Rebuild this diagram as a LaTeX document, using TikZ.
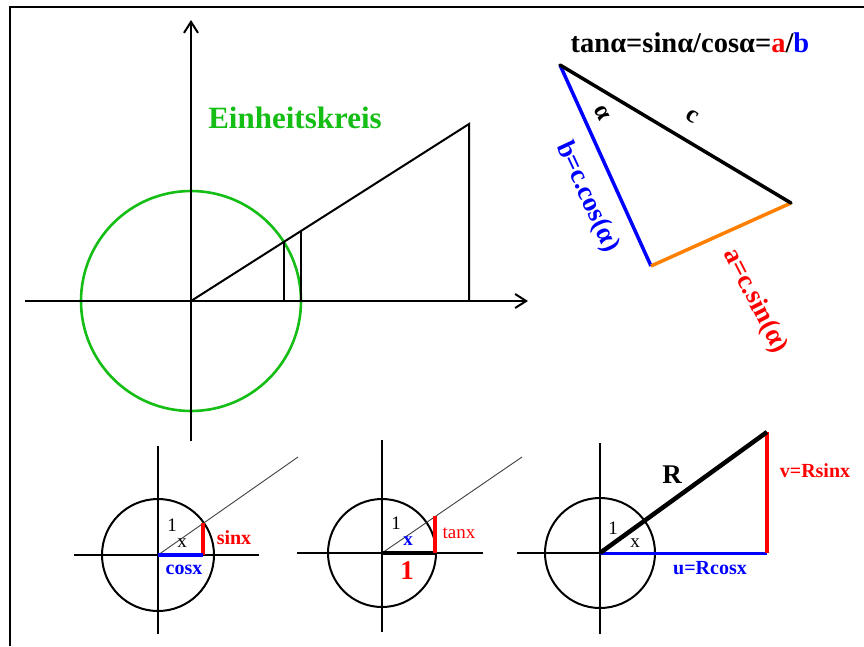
\documentclass[tikz,border=0pt]{standalone}
\usepackage{fontspec}
\setmainfont{Liberation Serif}
\usetikzlibrary{arrows.meta}
\definecolor{kgreen}{RGB}{20,190,20}
\definecolor{korange}{RGB}{255,128,0}
\definecolor{kred}{RGB}{255,0,0}
\definecolor{kblue}{RGB}{0,0,255}
\begin{document}
\begin{tikzpicture}[x=1pt,y=-1pt,
  axis/.style={line width=2pt,black},
  barb/.style={-{Straight Barb[length=11pt,width=14pt,line width=2pt]}},
  thin ray/.style={line width=0.9pt,black!75},
  lbl/.style={inner sep=0pt,font=\fontsize{20}{22}\selectfont\bfseries},
  num/.style={inner sep=0pt,font=\fontsize{19}{21}\selectfont},
  big/.style={inner sep=0pt,font=\fontsize{27}{30}\selectfont\bfseries}]
\useasboundingbox (0,0) rectangle (864,646);
% frame
\coordinate (fbl) at (10,646);
\coordinate (ftl) at (10,7);
\coordinate (ftr) at (864,7);
\draw[line width=2.5pt] (fbl) -- (ftl) -- (ftr);

% ---------- main unit circle diagram ----------
\coordinate (O) at (191,301);
\coordinate (xs) at (25,301);
\coordinate (xe) at (528,301);
\coordinate (ys) at (191,441);
\coordinate (ye) at (191,20);
\draw[kgreen,line width=2.6pt] (O) circle[radius=110];
\draw[axis,barb] (xs) -- (xe);
\draw[axis,barb] (ys) -- (ye);
\coordinate (T) at (469,124);
\coordinate (Tb) at (469,301);
\coordinate (P) at (284,242);
\coordinate (Pb) at (284,301);
\coordinate (Q) at (301,231);
\coordinate (Qb) at (301,301);
\draw[axis] (O) -- (T) -- (Tb);
\draw[axis] (P) -- (Pb);
\draw[axis] (Q) -- (Qb);
\node[big,text=kgreen,font=\fontsize{31}{33}\selectfont\bfseries] (ek) at (295,118) {Einheitskreis};

% ---------- triangle ----------
\node[big,font=\fontsize{28.5}{30}\selectfont\bfseries] (title) at (690,43) {tanα=sinα/cosα=\textcolor{kred}{a}/\textcolor{kblue}{b}};
\coordinate (A) at (560,65);
\coordinate (B) at (791,203);
\coordinate (C) at (651,266);
\draw[kblue,line width=3.5pt] (A) -- (C);
\draw[korange,line width=3.5pt] (C) -- (B);
\draw[black,line width=3.5pt,line cap=round] (A) -- (B);
\node[big,rotate=-62,font=\fontsize{25}{27}\selectfont\bfseries] (al) at (602,113) {α};
\node[big,rotate=-31,font=\fontsize{25}{27}\selectfont\bfseries] (cl) at (692,116) {c};
\node[big,rotate=-65,text=kblue,font=\fontsize{27}{29}\selectfont\bfseries] (bl) at (587,197) {b=c.cos(α)};
\node[big,rotate=-63,text=kred,font=\fontsize{27}{29}\selectfont\bfseries] (alb) at (755,301) {a=c.sin(α)};

% ---------- bottom circle 1 ----------
\coordinate (O1) at (158,555);
\coordinate (a1l) at (74,555);
\coordinate (a1r) at (259,555);
\coordinate (a1t) at (158,446);
\coordinate (a1b) at (158,634);
\coordinate (r1) at (298,457);
\coordinate (s1) at (203,523);
\coordinate (c1) at (203,555);
\draw[axis] (O1) circle[radius=56];
\draw[axis] (a1l) -- (a1r);
\draw[axis] (a1t) -- (a1b);
\draw[thin ray] (O1) -- (r1);
\draw[kred,line width=3.5pt] (s1) -- (c1);
\draw[kblue,line width=4pt] (O1) -- (c1);
\node[num] (one1) at (172,525) {1};
\node[num] (x1) at (182,543) {x};
\node[lbl,text=kred] (sinx) at (234,538) {sinx};
\node[lbl,text=kblue] (cosx) at (184,570) {cosx};

% ---------- bottom circle 2 ----------
\coordinate (O2) at (382,553);
\coordinate (a2l) at (297,553);
\coordinate (a2r) at (483,553);
\coordinate (a2t) at (382,440);
\coordinate (a2b) at (382,632);
\coordinate (r2) at (522,457);
\coordinate (t2) at (435,516);
\coordinate (c2) at (435,553);
\draw[axis] (O2) circle[radius=54];
\draw[axis] (a2l) -- (a2r);
\draw[axis] (a2t) -- (a2b);
\draw[thin ray] (O2) -- (r2);
\draw[black,line width=4pt] (O2) -- (c2);
\draw[kred,line width=3.5pt] (t2) -- (c2);
\node[num] (one2) at (396,523) {1};
\node[num,text=kblue,font=\fontsize{19}{21}\selectfont\bfseries] (x2) at (408,541) {x};
\node[lbl,text=kred,font=\fontsize{19}{21}\selectfont] (tanx) at (459,533) {tanx};
\node[big,text=kred] (one2r) at (407,571) {1};

% ---------- bottom circle 3 ----------
\coordinate (O3) at (600,553);
\coordinate (a3l) at (517,553);
\coordinate (a3t) at (600,443);
\coordinate (a3b) at (600,634);
\coordinate (R3) at (767,432);
\coordinate (U3) at (767,553);
\draw[axis] (O3) circle[radius=55];
\draw[axis] (a3l) -- (O3);
\draw[axis] (a3t) -- (a3b);
\draw[kblue,line width=3pt] (O3) -- (U3);
\draw[kred,line width=4pt] (R3) -- (U3);
\draw[black,line width=4.5pt] (O3) -- (R3);
\node[num] (one3) at (613,528) {1};
\node[num] (x3) at (635,543) {x};
\node[big] (Rl) at (672,475) {R};
\node[lbl,text=kred] (vl) at (815,471) {v=Rsinx};
\node[lbl,text=kblue] (ul) at (710,568) {u=Rcosx};
\end{tikzpicture}
\end{document}
